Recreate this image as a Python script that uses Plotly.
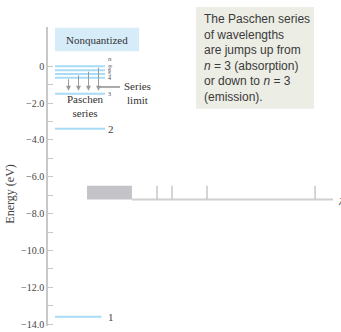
import plotly.graph_objects as go

# ---------------- data ----------------
level_labels = ["∞", "6", "5", "4", "3", "2", "1"]
level_energy = [0.0, -0.22, -0.42, -0.63, -1.5, -3.4, -13.6]

transition_from = ["4", "5", "6", "∞"]   # Paschen jumps down to n = 3
transition_to = "3"

ytick_vals = [0, -2, -4, -6, -8, -10, -12, -14]
ytick_text = ["0", "−2.0", "−4.0", "−6.0", "−8.0", "−10.0", "−12.0", "−14.0"]
yminor_vals = [-1, -3, -5, -7, -9, -11, -13]

spectrum_band_nm = [820, 1028]            # dense lines near series limit
spectrum_lines_nm = [1144, 1213, 1375, 1875]
spectrum_end_nm = 1958

# ---------------- styling ----------------
W, H = 341, 332
LEVEL_COLOR = "#a9dcf4"
SERIF = "Liberation Serif, Times New Roman, serif"
SANS = "Liberation Sans, Arial, sans-serif"
E_of = dict(zip(level_labels, level_energy))

def py(px):  # pixel row -> paper y
    return 1 - px / H

def px_x(px):  # pixel col -> paper x
    return px / W

fig = go.Figure()

# energy levels
xs, ys = [], []
for lab, e in zip(level_labels, level_energy):
    x_end = 0.93 if lab == "1" else 1.0
    xs += [0, x_end, None]
    ys += [e, e, None]
fig.add_trace(go.Scatter(x=xs, y=ys, mode="lines",
                         line=dict(color=LEVEL_COLOR, width=2),
                         hoverinfo="skip", showlegend=False))

# spectrum
b0, b1 = spectrum_band_nm
fig.add_trace(go.Scatter(x=[b0, b1, b1, b0, b0], y=[0, 0, 1, 1, 0],
                         xaxis="x2", yaxis="y2", mode="lines", fill="toself",
                         fillcolor="#c4c4c8", line=dict(width=0, color="#c4c4c8"),
                         hoverinfo="skip", showlegend=False))
fig.add_trace(go.Scatter(x=[b1, spectrum_end_nm], y=[0, 0], xaxis="x2", yaxis="y2",
                         mode="lines", line=dict(color="#d0d0d0", width=2),
                         hoverinfo="skip", showlegend=False))
lx, ly = [], []
for lam in spectrum_lines_nm:
    lx += [lam, lam, None]
    ly += [0, 1, None]
fig.add_trace(go.Scatter(x=lx, y=ly, xaxis="x2", yaxis="y2", mode="lines",
                         line=dict(color="#c8c8c8", width=1.5),
                         hoverinfo="skip", showlegend=False))

annotations = []
shapes = []

# transition arrows
arrow_x = [0.27, 0.47, 0.67, 0.87]
for xa, frm in zip(arrow_x, transition_from):
    annotations.append(dict(x=xa, y=E_of[transition_to], ax=xa, ay=E_of[frm],
                            xref="x", yref="y", axref="x", ayref="y",
                            text="", showarrow=True, arrowhead=2, arrowsize=1,
                            arrowwidth=1, arrowcolor="#9a9a9a", standoff=3))

# level labels
annotations.append(dict(x=1.04, y=0.37, xref="x", yref="y", text="<i>n</i>",
                        showarrow=False, xanchor="left", yanchor="middle", borderpad=0,
                        font=dict(family=SERIF, size=7, color="#444")))
for lab, e in zip(level_labels, level_energy):
    big = lab in ("1", "2")
    annotations.append(dict(x=1.04, y=e, xref="x", yref="y", text=lab,
                            showarrow=False, xanchor="left", yanchor="middle", borderpad=0,
                            font=dict(family=SERIF, size=11 if big else 6, color="#444")))

# Paschen series label
annotations.append(dict(x=0.6, y=-2.17, xref="x", yref="y", text="Paschen<br>series",
                        showarrow=False, xanchor="center", yanchor="middle",
                        font=dict(family=SERIF, size=11, color="#333")))

# series limit
shapes.append(dict(type="line", xref="x", yref="y", x0=0.9, x1=1.3, y0=-1.13, y1=-1.13,
                   line=dict(color="#555", width=1)))
annotations.append(dict(x=1.64, y=-1.45, xref="x", yref="y", text="Series<br>limit",
                        showarrow=False, xanchor="center", yanchor="middle",
                        font=dict(family=SERIF, size=11, color="#333")))

# Nonquantized box
shapes.append(dict(type="rect", xref="paper", yref="paper",
                   x0=px_x(55), x1=px_x(139), y0=py(52), y1=py(28),
                   fillcolor="#d6ecf9", line=dict(width=0), layer="below"))
annotations.append(dict(x=px_x(97), y=py(40), xref="paper", yref="paper",
                        xanchor="center", yanchor="middle",
                        text="Nonquantized", showarrow=False,
                        font=dict(family=SERIF, size=11, color="#333")))

# explanation box
shapes.append(dict(type="rect", xref="paper", yref="paper",
                   x0=px_x(196), x1=px_x(314), y0=py(110), y1=py(7),
                   fillcolor="#ecede5", line=dict(width=0), layer="below"))
annotations.append(dict(x=px_x(202), y=py(59), xref="paper", yref="paper",
                        xanchor="left", yanchor="middle", align="left",
                        text=("The Paschen series<br>of wavelengths<br>are jumps up from<br>"
                              "<i>n</i> = 3 (absorption)<br>or down to <i>n</i> = 3<br>(emission)."),
                        showarrow=False, font=dict(family=SANS, size=12, color="#3a3a3a")))

# axis title
annotations.append(dict(x=px_x(10), y=py(197), xref="paper", yref="paper",
                        xanchor="center", yanchor="middle",
                        text="Energy (eV)", textangle=-90, showarrow=False,
                        font=dict(family=SERIF, size=12, color="#444")))

# lambda label
annotations.append(dict(x=px_x(336), y=py(203), xref="paper", yref="paper",
                        xanchor="left", yanchor="middle", text="<i>λ</i>", showarrow=False,
                        font=dict(family=SERIF, size=11, color="#444")))

fig.update_layout(
    width=W, height=H,
    margin=dict(l=0, r=0, t=0, b=0),
    paper_bgcolor="white", plot_bgcolor="rgba(0,0,0,0)",
    showlegend=False,
    xaxis=dict(domain=[px_x(48), 1], range=[-0.14, 5.72], visible=False, fixedrange=True),
    yaxis=dict(domain=[py(330), py(27.8)], range=[-14.1, 2.1],
               showline=True, linecolor="#c8c8c8", linewidth=1.5,
               ticks="inside", ticklen=5, tickcolor="#c8c8c8", tickwidth=1,
               tickvals=ytick_vals, ticktext=ytick_text, ticklabeloverflow="allow",
               tickfont=dict(family=SERIF, size=10, color="#444"),
               minor=dict(tickvals=yminor_vals, ticks="inside", ticklen=5,
                          tickcolor="#c8c8c8", tickwidth=1),
               showgrid=False, zeroline=False),
    xaxis2=dict(domain=[px_x(87), px_x(333)], range=[820, 1958], anchor="y2",
                visible=False),
    yaxis2=dict(domain=[py(203.4), py(187.3)], range=[-0.1, 1.05], anchor="x2",
                visible=False),
    annotations=annotations,
    shapes=shapes,
)

fig.write_html("out.html", config={"displayModeBar": False},
               post_script="document.body.style.margin='0';document.body.style.overflow='hidden';")
